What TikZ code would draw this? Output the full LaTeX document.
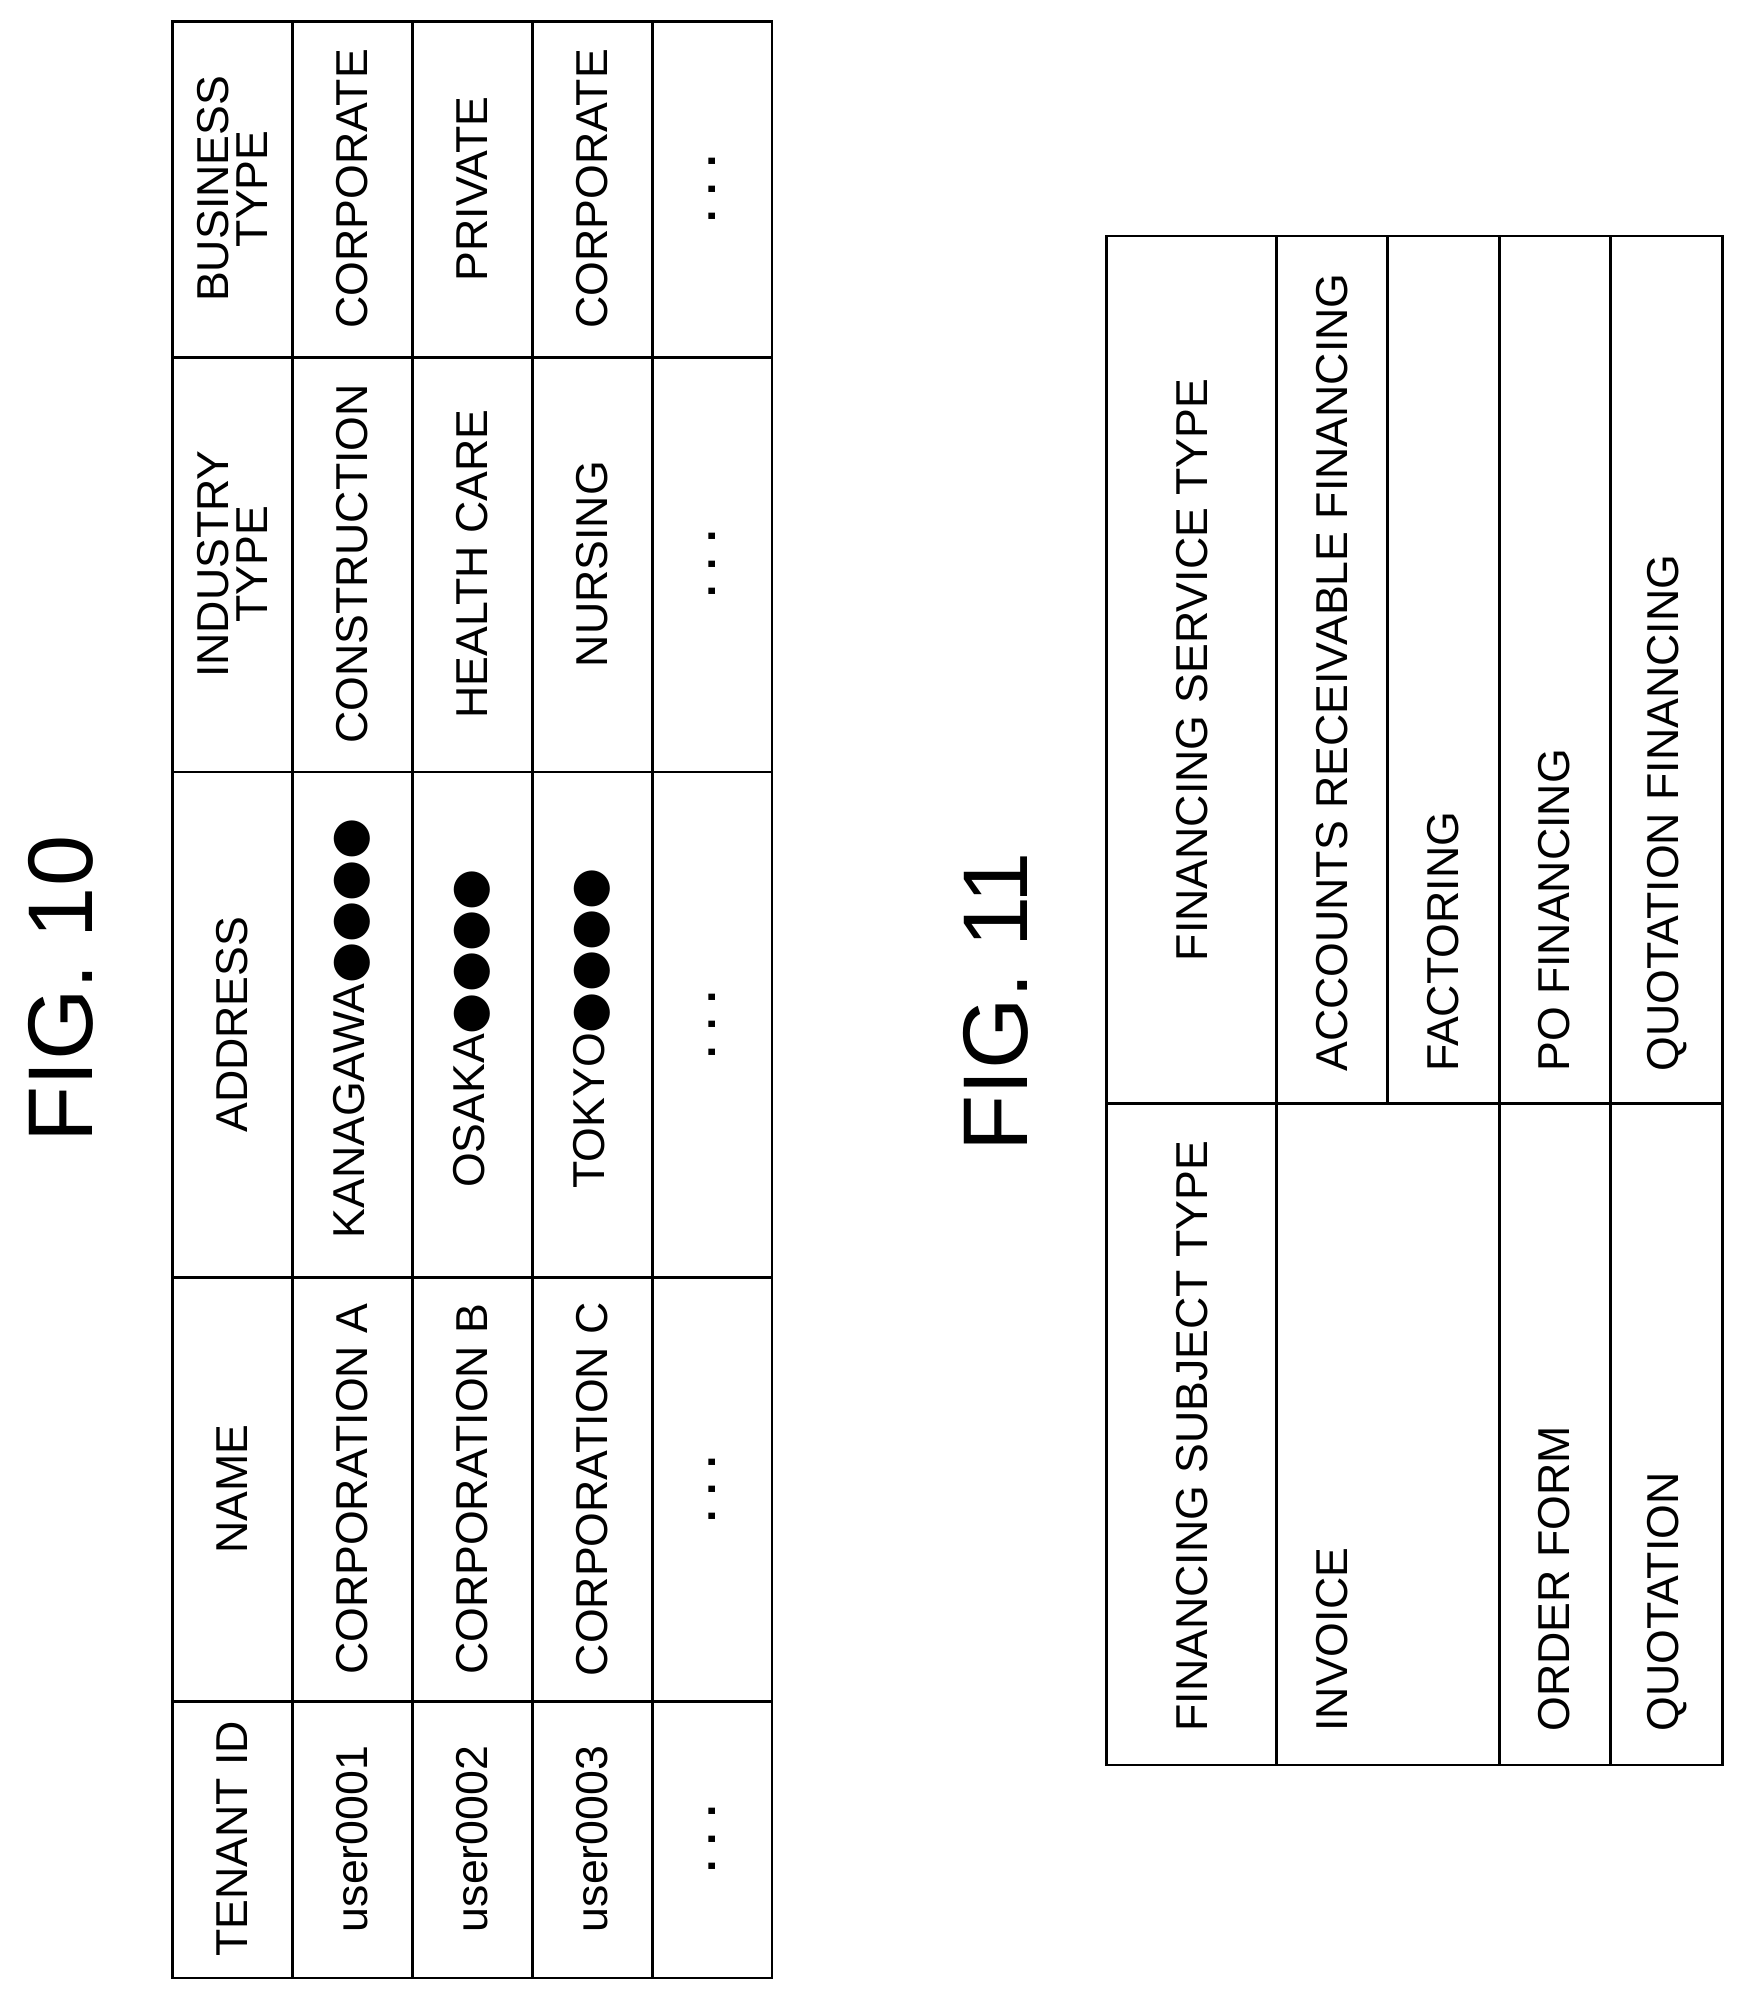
\documentclass[tikz,border=0pt]{standalone}
\usepackage{fontspec}
\setmainfont{Liberation Sans}
\newfontfamily\dv{DejaVu Sans}
\begin{document}
\begin{tikzpicture}[x=1pt,y=-1pt,
  ln/.style={line width=2.2pt},
  tx/.style={rotate=90,font=\fontsize{35}{38}\selectfont,inner sep=0pt,align=center},
  txl/.style={tx,anchor=west},
  ttl/.style={rotate=90,font=\fontsize{72}{76}\selectfont,inner sep=0pt}]
\useasboundingbox (0,0) rectangle (1366,1568);
\newcommand{\bl}{{\dv\fontsize{37}{37}\selectfont●●●●}}
% FIG 10
\node[ttl] (t10) at (48,775) {FIG. 10};
\draw[ln] (135,17) rectangle (605,1550);
\foreach \x in {229,323,417,511} \draw[ln] (\x,17) -- (\x,1550);
\foreach \y in {280,605,1001,1333} \draw[ln] (135,\y) -- (605,\y);
\node[tx] (h1) at (182,1441) {TENANT ID};
\node[tx] (h2) at (182,1167) {NAME};
\node[tx] (h3) at (182,803) {ADDRESS};
\node[tx,font=\fontsize{35}{31}\selectfont] (h4) at (182,442) {INDUSTRY\\TYPE};
\node[tx,font=\fontsize{35}{31}\selectfont] (h5) at (182,148) {BUSINESS\\TYPE};
\node[tx] (a1) at (276,1441) {user0001};
\node[tx] (a2) at (276,1167) {CORPORATION A};
\node[tx] (a3) at (276,806) {KANAGAWA\bl};
\node[tx] (a4) at (276,442) {CONSTRUCTION};
\node[tx] (a5) at (276,148) {CORPORATE};
\node[tx] (b1) at (370,1441) {user0002};
\node[tx] (b2) at (370,1167) {CORPORATION B};
\node[tx] (b3) at (370,806) {OSAKA\bl};
\node[tx] (b4) at (370,442) {HEALTH CARE};
\node[tx] (b5) at (370,148) {PRIVATE};
\node[tx] (c1) at (464,1441) {user0003};
\node[tx] (c2) at (464,1167) {CORPORATION C};
\node[tx] (c3) at (464,806) {TOKYO\bl};
\node[tx] (c4) at (464,442) {NURSING};
\node[tx] (c5) at (464,148) {CORPORATE};
\foreach \y/\n in {1441/1,1167/2,803/3,442/4,148/5}
  \node[tx,font=\bfseries\fontsize{35}{38}\selectfont] (d\n) at (558,\y) {.\,\,.\,\,.};
% FIG 11
\node[ttl] (t11) at (780,785) {FIG. 11};
\draw[ln] (867,185) rectangle (1350,1383);
\draw[ln] (867,865) -- (1350,865);
\foreach \x in {1000,1175,1262} \draw[ln] (\x,185) -- (\x,1383);
\draw[ln] (1087,185) -- (1087,865);
\node[txl] (s0) at (934,1357) {FINANCING SUBJECT TYPE};
\node[tx] (v0) at (934,525) {FINANCING SERVICE TYPE};
\node[txl] (s1) at (1044,1357) {INVOICE};
\node[txl] (v1) at (1044,840) {ACCOUNTS RECEIVABLE FINANCING};
\node[txl] (v2) at (1131,840) {FACTORING};
\node[txl] (s2) at (1218,1357) {ORDER FORM};
\node[txl] (v3) at (1218,840) {PO FINANCING};
\node[txl] (s3) at (1306,1357) {QUOTATION};
\node[txl] (v4) at (1306,840) {QUOTATION FINANCING};
\end{tikzpicture}
\end{document}
